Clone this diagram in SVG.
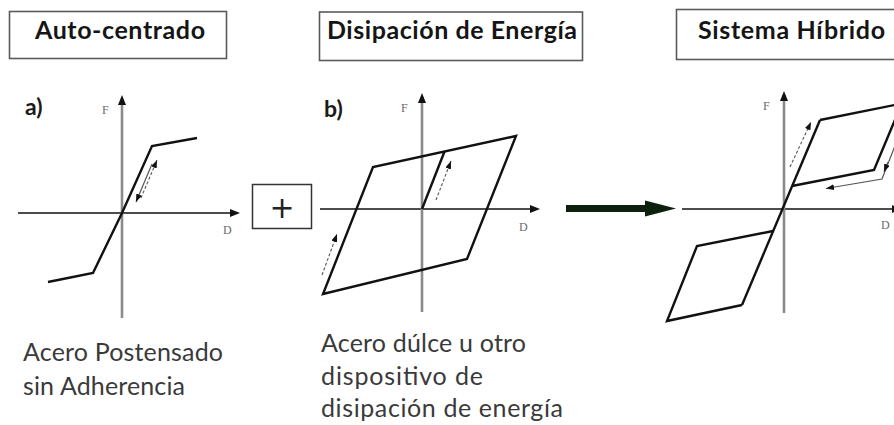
<svg xmlns="http://www.w3.org/2000/svg" width="894" height="425" viewBox="0 0 894 425">
<style>
.box{fill:#fff;stroke:#5a5a5a;stroke-width:1.6}
.title{font-family:Lato,"Open Sans",sans-serif;font-weight:bold;font-size:25px;fill:#151515}
.lab{font-family:Lato,"Open Sans",sans-serif;font-size:25px;fill:#3a3a3a}
.tag{font-family:Lato,"Open Sans",sans-serif;font-weight:bold;font-size:23px;fill:#1a1a1a}
.ax{font-family:"Liberation Serif",serif;font-size:12px;fill:#6a6a6a}
.hax{stroke:#111;stroke-width:1.5;fill:none}
.vax{stroke:#8a8a8a;stroke-width:2.6;fill:none}
.crv{stroke:#111;stroke-width:2.4;fill:none;stroke-linejoin:miter}
.dsh{stroke:#555;stroke-width:1.1;fill:none;stroke-dasharray:3 2}
.thn{stroke:#555;stroke-width:1.2;fill:none}
</style>
<defs>
<marker id="axh" viewBox="0 0 10 8" refX="6" refY="4" markerWidth="10" markerHeight="8" markerUnits="userSpaceOnUse" orient="auto"><path d="M0,0 L10,4 L0,8 z" fill="#111"/></marker>
<marker id="sh" viewBox="0 0 8 6" refX="8" refY="3" markerWidth="8" markerHeight="6" markerUnits="userSpaceOnUse" orient="auto"><path d="M0,0 L8,3 L0,6 z" fill="#111"/></marker>
</defs>

<g id="title-autocentrado">
<rect class="box" x="9.5" y="11.5" width="217" height="47"/>
<text class="title" x="35" y="39" textLength="170">Auto-centrado</text>
</g>
<g id="title-disipacion">
<rect class="box" x="319.5" y="12" width="263" height="48.5"/>
<text class="title" x="327" y="39" textLength="250">Disipación de Energía</text>
</g>
<g id="title-hibrido">
<rect class="box" x="676.5" y="9.5" width="230" height="50"/>
<text class="title" x="698" y="39" textLength="187">Sistema Híbrido</text>
</g>

<g id="graph-a">
<text class="tag" x="25" y="115">a)</text>
<line class="hax" x1="18" y1="213" x2="236" y2="213" marker-end="url(#axh)"/>
<line class="vax" x1="122" y1="318" x2="122" y2="99" marker-end="url(#axh)"/>
<text class="ax" x="102" y="114">F</text>
<text class="ax" x="223" y="234">D</text>
<polyline class="crv" points="48,282 93,273 122,213 152,146 197,138"/>
<line class="dsh" x1="141" y1="198" x2="157" y2="160" marker-end="url(#sh)"/>
<line class="thn" x1="152" y1="164" x2="136" y2="202" marker-end="url(#sh)"/>
<text class="lab" x="23" y="361" textLength="200">Acero Postensado</text>
<text class="lab" x="23" y="395" textLength="162">sin Adherencia</text>
</g>

<g id="plus">
<rect x="252.5" y="184.5" width="59" height="44" fill="#fff" stroke="#333" stroke-width="1.5"/>
<text x="282" y="218" text-anchor="middle" font-family="'DejaVu Sans',sans-serif" font-size="30" fill="#222">+</text>
</g>

<g id="graph-b">
<text class="tag" x="324" y="117">b)</text>
<line class="hax" x1="320" y1="209" x2="536" y2="209" marker-end="url(#axh)"/>
<line class="vax" x1="422" y1="312" x2="422" y2="97" marker-end="url(#axh)"/>
<text class="ax" x="401" y="112">F</text>
<text class="ax" x="519" y="231">D</text>
<polygon class="crv" points="516,136 373,167 323,294 467,259"/>
<line class="crv" x1="422" y1="209" x2="444.5" y2="151.5"/>
<line class="dsh" x1="436" y1="200" x2="451" y2="161" marker-end="url(#sh)"/>
<line class="dsh" x1="322" y1="275" x2="337" y2="234" marker-end="url(#sh)"/>
<text class="lab" x="321" y="352" textLength="205">Acero dúlce u otro</text>
<text class="lab" x="321" y="385" textLength="162">dispositivo de</text>
<text class="lab" x="321" y="417" textLength="242">disipación de energía</text>
</g>

<g id="graph-c">
<line class="hax" x1="682" y1="209" x2="894" y2="209"/>
<polygon points="892,205 900,209 892,213" fill="#111"/>
<line class="vax" x1="784" y1="313" x2="784" y2="95" marker-end="url(#axh)"/>
<text class="ax" x="763" y="110">F</text>
<text class="ax" x="881" y="229">D</text>
<line class="crv" x1="742" y1="305" x2="820" y2="120"/>
<polyline class="crv" points="820,120 902,103.5"/>
<polyline class="crv" points="792,186 874,170 902,103"/>
<polyline class="crv" points="773,231 697,246 667,321 742,305"/>
<polyline class="thn" points="902,128 882,179 826,188.5" marker-end="url(#sh)"/>
<line class="thn" x1="888" y1="162" x2="884" y2="172" marker-end="url(#sh)"/>
<line class="dsh" x1="790" y1="167" x2="811" y2="122" marker-end="url(#sh)"/>
</g>

<g id="connectors">
<polygon points="566,205 645,205 645,200.5 676,208.5 645,216.5 645,212 566,212" fill="#0d1f0d"/>
</g>
</svg>
